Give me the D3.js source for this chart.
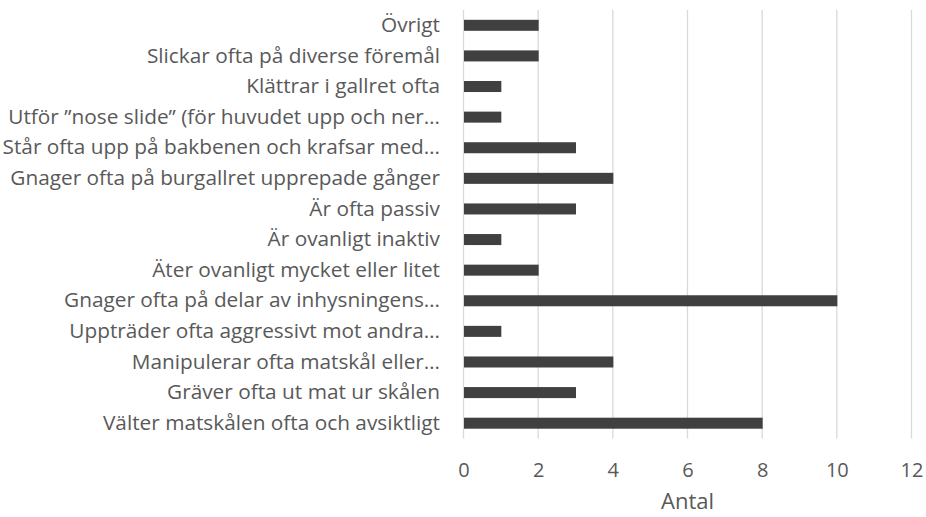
<!DOCTYPE html>
<html>
<head>
<meta charset="utf-8">
<script src="https://cdn.jsdelivr.net/npm/d3@7"></script>
<style>
  body{margin:0;background:#fff;}
  text{font-family:"Open Sans",sans-serif;fill:#595959;}
</style>
</head>
<body>
<div id="chart"></div>
<script>
// categories top to bottom
var categories = [
  "Övrigt",
  "Slickar ofta på diverse föremål",
  "Klättrar i gallret ofta",
  "Utför ”nose slide” (för huvudet upp och ner…",
  "Står ofta upp på bakbenen och krafsar med…",
  "Gnager ofta på burgallret upprepade gånger",
  "Är ofta passiv",
  "Är ovanligt inaktiv",
  "Äter ovanligt mycket eller litet",
  "Gnager ofta på delar av inhysningens…",
  "Uppträder ofta aggressivt mot andra…",
  "Manipulerar ofta matskål eller…",
  "Gräver ofta ut mat ur skålen",
  "Välter matskålen ofta och avsiktligt"
];
var values = [2,2,1,1,3,4,3,1,2,10,1,4,3,8];
var xTicks = [0,2,4,6,8,10,12];
var xTitle = "Antal";

var width = 926, height = 517;
var svg = d3.select("#chart").append("svg")
    .attr("width",width)
    .attr("height",height);

var xScale = d3.scaleLinear().domain([0,12]).range([463.5,911.5]);
var yScale = d3.scaleBand().domain(categories).range([10,438.5]).paddingInner(0.64).paddingOuter(0.32);

// gridlines
svg.append("g")
    .selectAll("line")
    .data(xTicks)
    .enter()
    .append("line")
    .attr("x1",d=>xScale(d))
    .attr("x2",d=>xScale(d))
    .attr("y1",10)
    .attr("y2",438.5)
    .attr("stroke","#d9d9d9")
    .attr("stroke-width",1.3);

// bars
svg.append("g")
    .selectAll("rect")
    .data(values)
    .enter()
    .append("rect")
    .attr("x",xScale(0)+0.5)
    .attr("y",(d,i)=>yScale(categories[i]))
    .attr("width",d=>xScale(d)-xScale(0))
    .attr("height",yScale.bandwidth())
    .attr("fill","#404040");

// y axis labels
var yAxis = d3.axisLeft(yScale).tickSize(0).tickPadding(0);
var gy = svg.append("g")
    .attr("transform","translate(440,0)")
    .call(yAxis);
gy.select(".domain").remove();
gy.selectAll("text")
    .attr("font-size",20.8)
    .style("font-family","'Open Sans',sans-serif")
    .attr("fill","#595959");

// x axis labels
var xAxis = d3.axisBottom(xScale).tickValues(xTicks).tickSize(0).tickPadding(0);
var gx = svg.append("g")
    .attr("transform","translate(0,463)")
    .call(xAxis);
gx.select(".domain").remove();
gx.selectAll("text")
    .attr("font-size",20)
    .style("font-family","'Open Sans',sans-serif")
    .attr("fill","#595959");

svg.append("text")
    .attr("x",xScale(6))
    .attr("y",509)
    .attr("text-anchor","middle")
    .attr("font-size",22)
    .text(xTitle);
</script>
</body>
</html>
